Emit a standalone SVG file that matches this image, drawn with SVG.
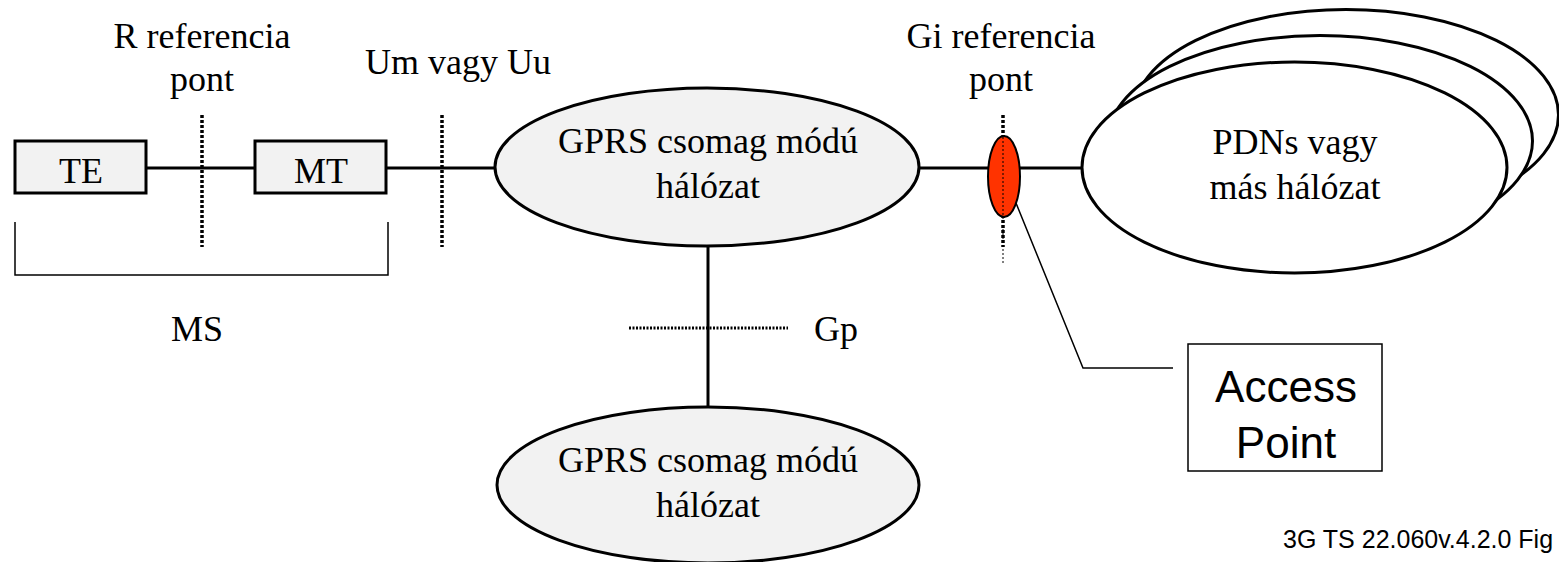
<svg xmlns="http://www.w3.org/2000/svg" width="1559" height="562" viewBox="0 0 1559 562">
<style>
.t{font-family:"Liberation Serif","DejaVu Serif","Times New Roman",serif;font-size:36px;fill:#000;text-anchor:middle}
.s{font-family:"Liberation Sans",Arial,sans-serif;fill:#000}
.box{fill:#f2f2f2;stroke:#000;stroke-width:3}
.ell{fill:#f2f2f2;stroke:#000;stroke-width:3}
.pdn{fill:#fff;stroke:#000;stroke-width:3}
.ln{stroke:#000;stroke-width:3;fill:none}
.thin{stroke:#000;stroke-width:1.5;fill:none}
.dot{stroke:#000;stroke-width:3.5;stroke-dasharray:3 2;fill:none}
.fdot{stroke:#000;stroke-width:1;stroke-dasharray:2 2;fill:none}
</style>
<rect width="1559" height="562" fill="#fff"/>
<g id="connectors">
<line class="ln" x1="146" y1="168" x2="255" y2="168"/>
<line class="ln" x1="386" y1="168" x2="495" y2="168"/>
<line class="ln" x1="919" y1="168" x2="988" y2="168"/>
<line class="ln" x1="1020" y1="168" x2="1082" y2="168"/>
<line class="ln" x1="708" y1="246" x2="708" y2="407"/>
<polyline class="thin" points="15,222 15,275 388,275 388,222"/>
<polyline class="thin" points="1016,203 1083,368 1173,368"/>
</g>
<g id="ref-R">
<text class="t" x="202" y="48">R referencia</text>
<text class="t" x="202" y="91">pont</text>
<line class="dot" x1="202" y1="115" x2="202" y2="247"/>
</g>
<g id="ref-Um">
<text class="t" x="458" y="74">Um vagy Uu</text>
<line class="dot" x1="442" y1="115" x2="442" y2="247"/>
</g>
<g id="TE">
<rect class="box" x="15" y="141" width="131" height="52"/>
<text class="t" x="81" y="183">TE</text>
</g>
<g id="MT">
<rect class="box" x="255" y="141" width="131" height="52"/>
<text class="t" x="321" y="183">MT</text>
</g>
<g id="MS">
<text class="t" x="197" y="341">MS</text>
</g>
<g id="gprs1">
<ellipse class="ell" cx="707" cy="167" rx="212" ry="79"/>
<text class="t" x="708" y="153">GPRS csomag módú</text>
<text class="t" x="708" y="198">hálózat</text>
</g>
<g id="gprs2">
<ellipse class="ell" cx="708" cy="485" rx="211" ry="78"/>
<text class="t" x="708" y="472">GPRS csomag módú</text>
<text class="t" x="708" y="517">hálózat</text>
</g>
<g id="ref-Gp">
<line class="dot" x1="629" y1="328" x2="788" y2="328" style="stroke-width:3;stroke-dasharray:2 1.5"/>
<text class="t" x="836" y="341">Gp</text>
</g>
<g id="ref-Gi">
<text class="t" x="1001" y="48">Gi referencia</text>
<text class="t" x="1001" y="91">pont</text>
<line class="dot" x1="1003" y1="115" x2="1003" y2="247"/>
<ellipse cx="1004" cy="176.5" rx="16" ry="40.5" fill="#ff3300" stroke="#000" stroke-width="2"/>
<line class="fdot" x1="1003" y1="137" x2="1003" y2="265"/>
</g>
<g id="pdn">
<ellipse class="pdn" cx="1346" cy="115" rx="212.5" ry="105.5"/>
<ellipse class="pdn" cx="1320" cy="141" rx="212.5" ry="105.5"/>
<ellipse class="pdn" cx="1294.5" cy="167.5" rx="212.5" ry="105.5"/>
<text class="t" x="1295" y="154">PDNs vagy</text>
<text class="t" x="1295" y="199">más hálózat</text>
</g>
<g id="access-point">
<rect x="1188" y="344" width="194" height="127" fill="#fff" stroke="#000" stroke-width="1.5"/>
<text class="s" x="1286" y="402" font-size="44" text-anchor="middle">Access</text>
<text class="s" x="1286" y="458" font-size="44" text-anchor="middle">Point</text>
</g>
<g id="caption">
<text class="s" x="1283" y="548" font-size="25">3G TS 22.060v.4.2.0 Fig</text>
</g>
</svg>
